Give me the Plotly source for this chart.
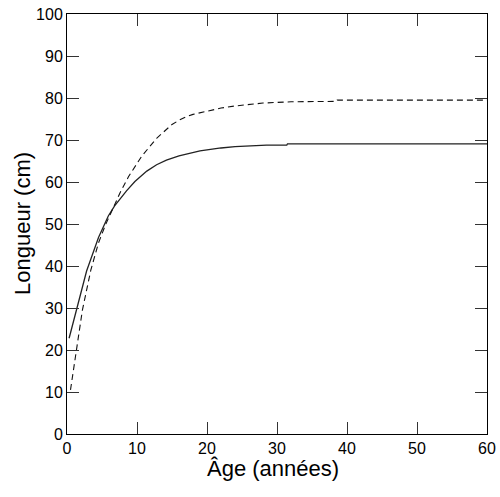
import plotly.graph_objects as go

# Solid curve (age, length)
solid_age = [0.3, 1.5, 2.8, 4.5, 5.9, 6.8, 8.5, 9.7, 10.4, 11.4, 12.8, 14.2, 16.0, 18.0, 19.0, 22.0, 24.0, 28.5, 31.4, 31.5, 40.0, 50.0, 60.0]
solid_len = [22.8, 30.8, 38.8, 46.8, 51.9, 54.3, 57.9, 60.1, 61.2, 62.6, 64.1, 65.2, 66.2, 67.0, 67.4, 68.1, 68.4, 68.8, 68.8, 69.1, 69.1, 69.1, 69.1]

# Dashed curve (age, length)
dashed_age = [0.5, 1.3, 2.2, 3.4, 4.5, 5.5, 6.6, 7.6, 8.8, 10.7, 12.8, 14.2, 15.0, 16.0, 17.0, 18.0, 20.0, 22.0, 24.0, 28.0, 32.0, 38.5, 38.6, 50.0, 60.0]
dashed_len = [10.5, 20.0, 29.5, 39.0, 45.5, 49.8, 53.9, 57.5, 61.3, 66.2, 70.4, 72.6, 73.7, 74.7, 75.5, 76.1, 76.9, 77.6, 78.1, 78.8, 79.1, 79.2, 79.5, 79.5, 79.5]

x_ticks = [0, 10, 20, 30, 40, 50, 60]
y_ticks = [0, 10, 20, 30, 40, 50, 60, 70, 80, 90, 100]

FONT = "Liberation Sans, Arial, sans-serif"

fig = go.Figure()
fig.add_trace(go.Scatter(x=solid_age, y=solid_len, mode="lines",
                         line=dict(color="#222222", width=1.3), showlegend=False))
fig.add_trace(go.Scatter(x=dashed_age, y=dashed_len, mode="lines",
                         line=dict(color="#111111", width=1.1, dash="6px,4px"), showlegend=False))

L, R, T, B = 67, 13, 14, 63
W, H = 500, 497
pw, ph = W - L - R, H - T - B

fig.update_layout(
    width=W, height=H,
    margin=dict(l=L, r=R, t=T, b=B, pad=0, autoexpand=False),
    paper_bgcolor="white", plot_bgcolor="white",
    font=dict(family=FONT, size=16, color="black"),
    showlegend=False,
)
axis_common = dict(showgrid=False, zeroline=False, showline=True, linecolor="black", linewidth=1,
                   mirror="ticks", ticks="inside", ticklen=12, tickwidth=1, tickcolor="#333333",
                   automargin=False,
                   tickfont=dict(family=FONT, size=16, color="black"))
fig.update_xaxes(range=[0, 60], tickvals=x_ticks, ticktext=[str(v) for v in x_ticks], **axis_common)
fig.update_yaxes(range=[0, 100], tickvals=y_ticks, ticktext=[str(v) for v in y_ticks], **axis_common)

fig.add_annotation(text="Âge (années)", xref="paper", yref="paper",
                   x=(273 - L) / pw, y=(434 - 468) / ph, xanchor="center", yanchor="middle",
                   showarrow=False, font=dict(family=FONT, size=22, color="black"))
fig.add_annotation(text="Longueur (cm)", xref="paper", yref="paper",
                   x=(22 - L) / pw, y=0.5, xanchor="center", yanchor="middle", textangle=-90,
                   showarrow=False, font=dict(family=FONT, size=22, color="black"))

fig.write_html("out.html", config={"displayModeBar": False},
               post_script="document.body.style.margin='0';document.body.style.overflow='hidden';")
